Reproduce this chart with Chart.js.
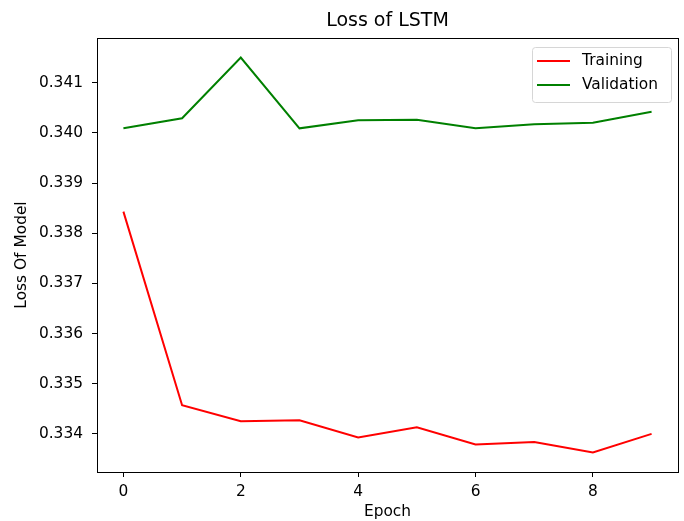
<!DOCTYPE html>
<html>
<head>
<meta charset="utf-8">
<script src="https://cdn.jsdelivr.net/npm/chart.js@4.4.0/dist/chart.umd.min.js"></script>
<style>
  html, body { margin: 0; padding: 0; background: #fff; }
  #wrap { width: 684px; height: 521px; }
</style>
</head>
<body>
<div id="wrap"><canvas id="loss-chart"></canvas></div>
<script>
const epochs = [0, 1, 2, 3, 4, 5, 6, 7, 8, 9];
const trainingLoss = [0.33843, 0.33457, 0.33425, 0.33427, 0.33393, 0.33413, 0.33379, 0.33384, 0.33363, 0.334];
const validationLoss = [0.34009, 0.34029, 0.3415, 0.34009, 0.34025, 0.34026, 0.34009, 0.34017, 0.3402, 0.34042];
const xTicks = [0, 2, 4, 6, 8];
const yTicks = [0.334, 0.335, 0.336, 0.337, 0.338, 0.339, 0.34, 0.341];

const FONT = "DejaVu Sans";
const TICK_SIZE = 15.4;

// right edge of the axes box and the matplotlib-style legend
const framePlugin = {
  id: "frame",
  afterDraw(chart) {
    const { ctx, chartArea } = chart;
    ctx.save();
    ctx.strokeStyle = "#000";
    ctx.lineWidth = 1;
    ctx.beginPath();
    ctx.moveTo(chartArea.right + 0.5, chartArea.top);
    ctx.lineTo(chartArea.right + 0.5, chartArea.bottom);
    ctx.stroke();

    const w = 139, h = 55;
    const bx = chartArea.right - 7 - w;
    const by = chartArea.top + 9;
    ctx.fillStyle = "rgba(255,255,255,0.8)";
    ctx.strokeStyle = "#d6d6d6";
    ctx.beginPath();
    ctx.roundRect(bx + 0.5, by + 0.5, w, h, 3);
    ctx.fill();
    ctx.stroke();

    ctx.font = TICK_SIZE + "px '" + FONT + "'";
    ctx.textBaseline = "middle";
    ctx.textAlign = "left";
    chart.data.datasets.forEach((ds, i) => {
      const y = by + 14 + i * 24;
      ctx.strokeStyle = ds.borderColor;
      ctx.lineWidth = 2;
      ctx.beginPath();
      ctx.moveTo(bx + 5, y);
      ctx.lineTo(bx + 38, y);
      ctx.stroke();
      ctx.fillStyle = "#000";
      ctx.fillText(ds.label, bx + 50, y);
    });
    ctx.restore();
  },
};

const ctx = document.getElementById("loss-chart").getContext("2d");
new Chart(ctx, {
  type: "line",
  plugins: [framePlugin],
  data: {
    datasets: [
      {
        label: "Training",
        data: epochs.map((e, i) => ({ x: e, y: trainingLoss[i] })),
        borderColor: "#ff0000",
        borderWidth: 2,
        pointRadius: 0,
        tension: 0,
        fill: false,
      },
      {
        label: "Validation",
        data: epochs.map((e, i) => ({ x: e, y: validationLoss[i] })),
        borderColor: "#008000",
        borderWidth: 2,
        pointRadius: 0,
        tension: 0,
        fill: false,
      },
    ],
  },
  options: {
    responsive: true,
    maintainAspectRatio: false,
    animation: false,
    devicePixelRatio: 1,
    layout: { padding: { left: 0, right: 6, top: 0, bottom: 0 } },
    plugins: {
      legend: { display: false },
      tooltip: { enabled: false },
      title: { display: false },
    },
    scales: {
      // top axis only carries the title (centred over the axes) and the top spine
      xTop: {
        type: "linear",
        position: "top",
        min: -0.45,
        max: 9.45,
        afterFit: (s) => {
          s.height = 38;
        },
        grid: { display: false },
        border: { display: true, color: "#000", width: 1 },
        ticks: { display: false },
        title: {
          display: true,
          text: "Loss of LSTM",
          color: "#000",
          font: { size: 19, family: FONT, weight: "normal" },
          padding: { top: 10, bottom: 0 },
        },
      },
      x: {
        type: "linear",
        position: "bottom",
        min: -0.45,
        max: 9.45,
        afterBuildTicks: (s) => {
          s.ticks = xTicks.map((v) => ({ value: v }));
        },
        afterFit: (s) => {
          s.height = 49;
        },
        grid: {
          drawOnChartArea: false,
          drawTicks: true,
          tickLength: 5,
          color: "#000",
        },
        border: { display: true, color: "#000", width: 1 },
        ticks: {
          color: "#000",
          padding: 6,
          maxRotation: 0,
          font: { size: TICK_SIZE, family: FONT },
          callback: (v) => String(v),
        },
        title: {
          display: true,
          text: "Epoch",
          color: "#000",
          font: { size: TICK_SIZE, family: FONT },
          padding: { top: 0, bottom: 0 },
        },
      },
      y: {
        min: 0.33324,
        max: 0.34189,
        afterBuildTicks: (s) => {
          s.ticks = yTicks.map((v) => ({ value: v }));
        },
        afterFit: (s) => {
          s.width = 97;
        },
        grid: {
          drawOnChartArea: false,
          drawTicks: true,
          tickLength: 5,
          color: "#000",
        },
        border: { display: true, color: "#000", width: 1 },
        ticks: {
          color: "#000",
          padding: 9,
          font: { size: TICK_SIZE, family: FONT },
          callback: (v) => Number(v).toFixed(3),
        },
        title: {
          display: true,
          text: "Loss Of Model",
          color: "#000",
          font: { size: TICK_SIZE, family: FONT },
          padding: { top: 12.5, bottom: 0 },
        },
      },
    },
  },
});
</script>
</body>
</html>
